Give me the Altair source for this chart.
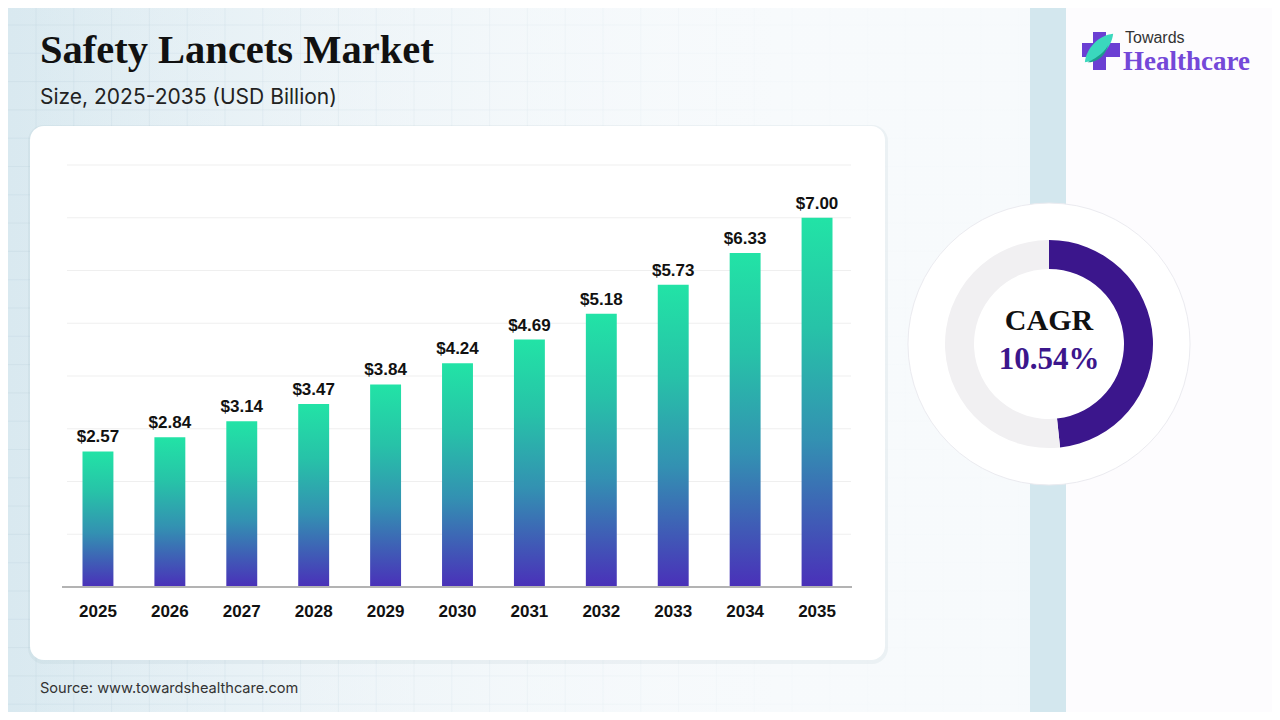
import altair as alt
import pandas as pd

# ---------------- data ----------------
years = ["2025", "2026", "2027", "2028", "2029", "2030", "2031", "2032", "2033", "2034", "2035"]
values = [2.57, 2.84, 3.14, 3.47, 3.84, 4.24, 4.69, 5.18, 5.73, 6.33, 7.00]
value_labels = ["$2.57", "$2.84", "$3.14", "$3.47", "$3.84", "$4.24", "$4.69", "$5.18", "$5.73", "$6.33", "$7.00"]
y_ticks = [1, 2, 3, 4, 5, 6, 7, 8]
cagr_segments = ["CAGR", "rest"]
cagr_shares = [48.3, 51.7]
cagr_order = [0, 1]

title_text = "Safety Lancets Market"
subtitle_text = "Size, 2025-2035 (USD Billion)"
source_text = "Source: www.towardshealthcare.com"
cagr_label = "CAGR"
cagr_value = "10.54%"
logo_top = "Towards"
logo_bottom = "Healthcare"

# ---------------- helpers ----------------
M = 8  # page margin


def P(v):
    return v - M


W, H = 1264, 704
dummy = pd.DataFrame({"d": [0]})
SANS = "Liberation Sans"
SANS2 = "Inter"
SERIF = "Liberation Serif"
PURPLE = "#3b168c"

bars_df = pd.DataFrame({"year": years, "value": values, "label": value_labels})
ticks_df = pd.DataFrame({"tick": y_ticks})
cagr_df = pd.DataFrame({"segment": cagr_segments, "share": cagr_shares, "ord": cagr_order})

xs = alt.Scale(domain=years, range=[P(62), P(853)], paddingInner=0.57, paddingOuter=0.285)
ys = alt.Scale(domain=[0, 8], range=[P(587), P(165)])

# ---------------- background ----------------
bg_grad = alt.Gradient(
    gradient="linear",
    stops=[
        alt.GradientStop(color="#d9e9f0", offset=0),
        alt.GradientStop(color="#ebf3f7", offset=0.4),
        alt.GradientStop(color="#f7fafc", offset=0.75),
        alt.GradientStop(color="#f8fbfc", offset=1),
    ],
    x1=0, x2=1, y1=0, y2=0,
)
bg = alt.Chart(dummy).mark_rect(color=bg_grad).encode(
    x=alt.value(0), x2=alt.value(P(1030)), y=alt.value(0), y2=alt.value(H)
)
band = alt.Chart(dummy).mark_rect(color="#d3e7ee").encode(
    x=alt.value(P(1030)), x2=alt.value(P(1066)), y=alt.value(0), y2=alt.value(H)
)
right_bg = alt.Chart(dummy).mark_rect(color="#fdfcfe").encode(
    x=alt.value(P(1066)), x2=alt.value(W), y=alt.value(0), y2=alt.value(H)
)

vgrid = pd.DataFrame({"gx": [P(36 + 37.8 * k) for k in range(27)]})
hgrid = pd.DataFrame({"gy": [P(25 + 28.3 * k) for k in range(25)]})
vlines = alt.Chart(vgrid).mark_rule(color="#c4d7e1", opacity=0.4, strokeWidth=1).encode(
    x=alt.X("gx:Q", scale=None, axis=None), y=alt.value(0), y2=alt.value(H)
)
hlines = alt.Chart(hgrid).mark_rule(color="#c4d7e1", opacity=0.4, strokeWidth=1).encode(
    y=alt.Y("gy:Q", scale=None, axis=None), x=alt.value(0), x2=alt.value(P(1030))
)
fade_grad = alt.Gradient(
    gradient="linear",
    stops=[
        alt.GradientStop(color="rgba(247,250,252,0)", offset=0),
        alt.GradientStop(color="rgba(247,250,252,0.5)", offset=0.45),
        alt.GradientStop(color="rgba(247,250,252,0.92)", offset=0.8),
        alt.GradientStop(color="rgba(247,250,252,0.95)", offset=1),
    ],
    x1=0, x2=1, y1=0, y2=0,
)
fade = alt.Chart(dummy).mark_rect(color=fade_grad).encode(
    x=alt.value(0), x2=alt.value(P(1030)), y=alt.value(0), y2=alt.value(H)
)

# ---------------- card ----------------
card_shadow = alt.Chart(dummy).mark_rect(color="#8aa2b2", opacity=0.10, cornerRadius=16).encode(
    x=alt.value(P(28)), x2=alt.value(P(888)), y=alt.value(P(125)), y2=alt.value(P(664))
)
card = alt.Chart(dummy).mark_rect(color="#ffffff", cornerRadius=14).encode(
    x=alt.value(P(30)), x2=alt.value(P(885)), y=alt.value(P(126)), y2=alt.value(P(660))
)

# ---------------- bar chart ----------------
grid = alt.Chart(ticks_df).mark_rule(color="#efefef", strokeWidth=1).encode(
    y=alt.Y("tick:Q", scale=ys, axis=None), x=alt.value(P(67)), x2=alt.value(P(851))
)
bar_grad = alt.Gradient(
    gradient="linear",
    stops=[
        alt.GradientStop(color="#22e3a6", offset=0),
        alt.GradientStop(color="#27c2a8", offset=0.3),
        alt.GradientStop(color="#3391b2", offset=0.6),
        alt.GradientStop(color="#4a30b9", offset=1),
    ],
    x1=0, x2=0, y1=0, y2=1,
)
bars = alt.Chart(bars_df).mark_bar(color=bar_grad).encode(
    x=alt.X("year:N", scale=xs, axis=None, sort=years),
    y=alt.Y("value:Q", scale=ys, axis=None),
)
baseline = alt.Chart(pd.DataFrame({"tick": [0]})).mark_rule(color="#b3b3b3", strokeWidth=2).encode(
    y=alt.Y("tick:Q", scale=ys, axis=None), x=alt.value(P(62)), x2=alt.value(P(852))
)
bar_labels = alt.Chart(bars_df).mark_text(
    dy=-9, baseline="alphabetic", align="center", fontSize=17, fontWeight="bold", font=SANS, color="#111111"
).encode(
    x=alt.X("year:N", scale=xs, axis=None, sort=years),
    y=alt.Y("value:Q", scale=ys, axis=None),
    text="label:N",
)
year_labels = alt.Chart(bars_df).mark_text(
    baseline="middle", align="center", fontSize=17, fontWeight="bold", font=SANS, color="#111111"
).encode(
    x=alt.X("year:N", scale=xs, axis=None, sort=years),
    y=alt.value(P(612)),
    text="year:N",
)

# ---------------- titles ----------------
title = alt.Chart(dummy).mark_text(
    text=title_text, font=SERIF, fontSize=40.5, fontWeight="bold", color="#111111",
    align="left", baseline="alphabetic"
).encode(x=alt.value(P(40)), y=alt.value(P(63)))
subtitle = alt.Chart(dummy).mark_text(
    text=subtitle_text, font=SANS2, fontSize=21, color="#222222", align="left", baseline="middle"
).encode(x=alt.value(P(40)), y=alt.value(P(98)))
source = alt.Chart(dummy).mark_text(
    text=source_text, font=SANS2, fontSize=14.6, color="#333333", align="left", baseline="middle"
).encode(x=alt.value(P(40)), y=alt.value(P(689)))

# ---------------- donut ----------------
CX, CY = P(1049), P(344)
outer = alt.Chart(dummy).mark_arc(
    radius=141, theta=0, theta2=6.2832, color="#ffffff", stroke="#ebebf0", strokeWidth=1
).encode(x=alt.value(CX), y=alt.value(CY))
donut = alt.Chart(cagr_df).mark_arc(radius=104, radius2=75).encode(
    theta=alt.Theta("share:Q", stack=True),
    color=alt.Color("segment:N", scale=alt.Scale(domain=cagr_segments, range=[PURPLE, "#f1f0f2"]), legend=None),
    order=alt.Order("ord:Q"),
    x=alt.value(CX),
    y=alt.value(CY),
)
cagr_t = alt.Chart(dummy).mark_text(
    text=cagr_label, font=SERIF, fontSize=30, fontWeight="bold", color="#111111",
    align="center", baseline="middle"
).encode(x=alt.value(CX), y=alt.value(P(321)))
cagr_v = alt.Chart(dummy).mark_text(
    text=cagr_value, font=SERIF, fontSize=31, fontWeight="bold", color=PURPLE,
    align="center", baseline="middle"
).encode(x=alt.value(CX), y=alt.value(P(360)))

# ---------------- logo ----------------
LOGO_PURPLE = "#6b3fd3"
cross_h = alt.Chart(dummy).mark_rect(color=LOGO_PURPLE).encode(
    x=alt.value(P(1082)), x2=alt.value(P(1120)), y=alt.value(P(43)), y2=alt.value(P(57))
)
cross_v = alt.Chart(dummy).mark_rect(color=LOGO_PURPLE).encode(
    x=alt.value(P(1093)), x2=alt.value(P(1106)), y=alt.value(P(32)), y2=alt.value(P(70))
)
leaf = alt.Chart(dummy).mark_point(
    shape="M -1 1 C -0.9 0.05 -0.05 -0.9 1 -1 C 0.9 -0.05 0.05 0.9 -1 1 Z",
    filled=True, size=800, color="#3ad8bd", opacity=1, strokeWidth=0
).encode(x=alt.value(P(1099)), y=alt.value(P(48)))
swoosh = alt.Chart(dummy).mark_point(
    shape="M -1 0.9 C -0.5 0.6 0.3 0.3 0.8 -0.6 C 0.5 0.5 -0.3 0.9 -1 0.9 Z",
    filled=True, size=520, color="#1b9c8c", opacity=1, strokeWidth=0
).encode(x=alt.value(P(1099)), y=alt.value(P(52)))
logo_t1 = alt.Chart(dummy).mark_text(
    text=logo_top, font=SANS, fontSize=16, color="#333333", align="left", baseline="middle"
).encode(x=alt.value(P(1125)), y=alt.value(P(38)))
logo_t2 = alt.Chart(dummy).mark_text(
    text=logo_bottom, font=SERIF, fontSize=27, fontWeight="bold", color="#7448d8",
    align="left", baseline="middle"
).encode(x=alt.value(P(1123)), y=alt.value(P(62)))

chart = alt.layer(
    bg, band, right_bg, vlines, hlines, fade, card_shadow, card,
    grid, bars, baseline, bar_labels, year_labels,
    title, subtitle, source,
    outer, donut, cagr_t, cagr_v,
    cross_h, cross_v, leaf, swoosh, logo_t1, logo_t2,
).resolve_scale(
    x="independent", y="independent", theta="independent", color="independent"
).properties(
    width=W, height=H, autosize=alt.AutoSizeParams(type="none"), padding=0, background="#ffffff"
).configure_view(strokeWidth=0)

chart.save("out.html", embed_options={"renderer": "svg", "actions": False})
